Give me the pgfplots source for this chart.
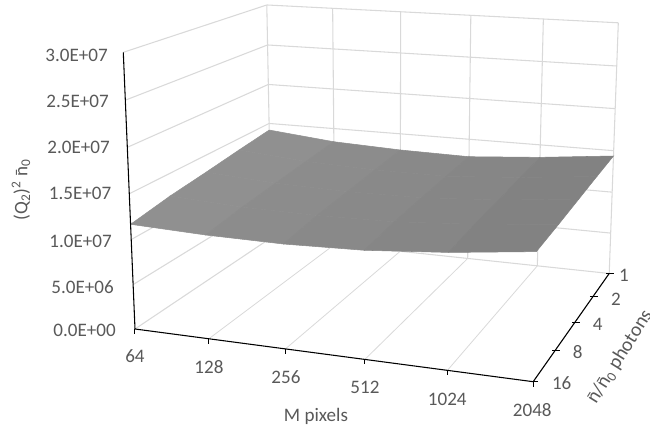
\documentclass[border=0pt]{standalone}
\usepackage{pgfplots}
\usepackage{pgfplotstable}
\usepackage{fontspec}
\setmainfont{Carlito}
\pgfplotsset{compat=1.18}
\definecolor{txt}{HTML}{595959}
\definecolor{gridc}{HTML}{D9D9D9}
\newcommand\nbar{\makebox[0pt][l]{\hspace{0.03em}\raisebox{-0.04em}{¯}}n}
\tikzset{lab/.style={text=txt,font=\fontsize{14.3}{16}\selectfont,inner sep=0pt}}
\pgfkeys{/pgf/declare function={
    DN(\u,\v,\w)=1-0.0895*\u+0.19847*\v-0.044*\w;
    PX(\u,\v,\w)=(135+350.5*\u+190.15*\v-17.13*\w)/DN(\u,\v,\w);
    PY(\u,\v,\w)=433-(329+18.54*\u-44.27*\v-279*\w)/DN(\u,\v,\w);
  }}
\pgfplotsset{
  table/proj/.style={
    x expr={PX(log2(\thisrow{M}/64)/5,1-log2(\thisrow{n})/4,\thisrow{Z}/3)},
    y expr={PY(log2(\thisrow{M}/64)/5,1-log2(\thisrow{n})/4,\thisrow{Z}/3)},
    z expr=0},
  table/projt/.style={
    x expr={PX(log2(\thisrow{M}/64)/5,1-log2(\thisrow{n})/4,0)+\thisrow{dx}},
    y expr={PY(log2(\thisrow{M}/64)/5,1-log2(\thisrow{n})/4,0)+\thisrow{dy}},
    z expr=0},
}
% surface values, in units of 10^7
\pgfplotstableread{
M n Z
64 16 1.167
128 16 1.138
256 16 1.131
512 16 1.156
1024 16 1.226
2048 16 1.326
64 8 1.245
128 8 1.200
256 8 1.190
512 8 1.205
1024 8 1.265
2048 8 1.350
64 4 1.300
128 4 1.245
256 4 1.225
512 4 1.235
1024 4 1.290
2048 4 1.380
64 2 1.360
128 2 1.290
256 2 1.260
512 2 1.260
1024 2 1.320
2048 2 1.410
64 1 1.415
128 1 1.332
256 1 1.297
512 1 1.284
1024 1 1.348
2048 1 1.436
}\surfdata
\newcommand\seg[7]{\addplot3[#1] table[row sep=\\,proj] {M n Z\\ #2 #3 #4\\ #5 #6 #7\\};}
\newcommand\tck[5]{\addplot3[black,line width=0.75pt] table[row sep=\\,projt] {M n dx dy\\ #1 #2 #3 #4\\ #1 #2 #5\\};}
\begin{document}
\begin{tikzpicture}
\path[use as bounding box] (0,0) rectangle (487.5pt,324.75pt);
\begin{axis}[
  at={(0,0)},anchor=south west,
  view={0}{90},hide axis,scale only axis,
  width=487.5pt,height=324.75pt,
  xmin=0,xmax=650,ymin=0,ymax=433,zmin=-1,zmax=1,
  clip=false,
  colormap={gr}{gray(0cm)=(0.57); gray(1cm)=(0.505)},
  point meta min=6,point meta max=11,
]
% walls
\pgfplotsinvokeforeach{0,0.5,1,1.5,2,2.5,3}{
  \seg{gridc,line width=0.8pt}{64}{16}{#1}{64}{1}{#1}
  \seg{gridc,line width=0.8pt}{64}{1}{#1}{2048}{1}{#1}
}
\pgfplotsinvokeforeach{64,128,256,512,1024,2048}{
  \seg{gridc,line width=0.8pt}{#1}{1}{0}{#1}{1}{3}
}
\pgfplotsinvokeforeach{128,256,512,1024,2048}{
  \seg{gridc,line width=0.6pt}{#1}{16}{0}{#1}{1}{0}
}
% surface
\addplot3[surf,shader=flat,mesh/cols=6,point meta={log2(\thisrow{M})}] table[proj] {\surfdata};
% axis lines
\seg{black,line width=0.8pt}{64}{16}{0}{64}{16}{3}
\seg{black,line width=0.8pt}{64}{16}{0}{2048}{16}{0}
\seg{black,line width=0.8pt}{2048}{16}{0}{2048}{1}{0}
\pgfplotsinvokeforeach{64,128,256,512,1024,2048}{
  \tck{#1}{16}{0}{0}{0 -5}
}
\pgfplotsinvokeforeach{1,2,4,8,16}{
  \tck{2048}{#1}{-3}{0}{5 0}
}
% z labels
\node[lab,anchor=east] at (axis cs:116,103,0) {0.0E+00};
\node[lab,anchor=east] at (axis cs:114,146.3,0) {5.0E+06};
\node[lab,anchor=east] at (axis cs:112,191.3,0) {1.0E+07};
\node[lab,anchor=east] at (axis cs:111.5,240,0) {1.5E+07};
\node[lab,anchor=east] at (axis cs:110,286,0) {2.0E+07};
\node[lab,anchor=east] at (axis cs:109,332,0) {2.5E+07};
\node[lab,anchor=east] at (axis cs:108,378,0) {3.0E+07};
% x labels
\node[lab] at (axis cs:135,76.5,0) {64};
\node[lab] at (axis cs:209,66,0) {128};
\node[lab] at (axis cs:286,56,0) {256};
\node[lab] at (axis cs:365,46,0) {512};
\node[lab] at (axis cs:447.3,34,0) {1024};
\node[lab] at (axis cs:532.3,22.5,0) {2048};
% y labels
\node[lab] at (axis cs:624,158,0) {1};
\node[lab] at (axis cs:616,134,0) {2};
\node[lab] at (axis cs:597.7,109,0) {4};
\node[lab] at (axis cs:577.7,81.3,0) {8};
\node[lab] at (axis cs:561.7,50.3,0) {16};
% titles
\node[lab] at (axis cs:316,16.5,0) {M pixels};
\node[lab,rotate=90] at (axis cs:21,243,0) {(Q\textsubscript{2})\textsuperscript{2} \nbar\textsubscript{0}};
\node[lab,rotate=58,anchor=south west,font=\fontsize{14.8}{16}\selectfont] at (axis cs:599,26,0) {\nbar/\nbar\textsubscript{0} photons};
\end{axis}
\end{tikzpicture}
\end{document}
